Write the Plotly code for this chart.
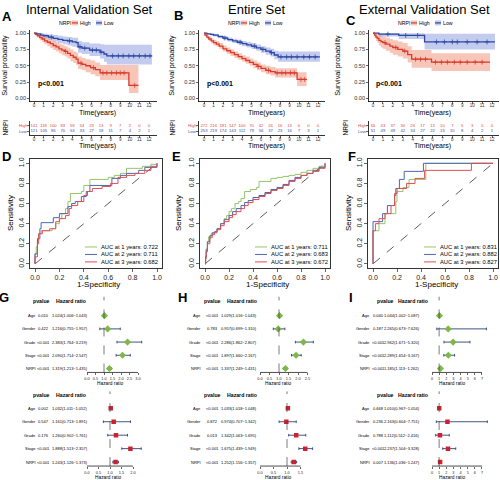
import numpy as np
import plotly.graph_objects as go

W, H = 500, 480
FONT = "Liberation Sans, Arial, sans-serif"

# ======================= DATA =======================
titles = ["Internal Validation Set", "Entire Set", "External Validation Set"]
letters = ["A", "B", "C", "D", "E", "F", "G", "H", "I"]
years = list(range(13))

# ---- Kaplan-Meier, Internal validation set (A) ----
A_high_t = [0, 0.15, 0.35, 0.6, 0.85, 1.1, 1.4, 1.7, 2.0, 2.3, 2.6, 2.9, 3.2, 3.5, 3.8, 4.1, 4.4, 4.6, 5.0, 5.4, 5.9, 6.4, 6.9, 9.9, 10.9]
A_high_s = [1.0, 0.98, 0.96, 0.93, 0.91, 0.88, 0.86, 0.84, 0.81, 0.79, 0.76, 0.74, 0.72, 0.69, 0.66, 0.63, 0.60, 0.54, 0.52, 0.50, 0.47, 0.44, 0.39, 0.20, 0.20]
A_high_lo = [1.0, 0.96, 0.93, 0.89, 0.86, 0.83, 0.80, 0.77, 0.74, 0.72, 0.69, 0.66, 0.64, 0.61, 0.57, 0.54, 0.51, 0.45, 0.43, 0.40, 0.37, 0.34, 0.28, 0.08, 0.08]
A_high_hi = [1.0, 1.0, 0.99, 0.97, 0.96, 0.94, 0.92, 0.90, 0.88, 0.86, 0.84, 0.82, 0.80, 0.78, 0.75, 0.72, 0.70, 0.64, 0.62, 0.60, 0.58, 0.55, 0.51, 0.51, 0.51]
A_high_cens = [3.3, 4.9, 6.2, 7.2, 7.6, 8.1, 8.6, 9.0, 9.4, 10.5]
A_low_t = [0, 0.3, 0.7, 1.0, 1.5, 2.0, 2.5, 3.0, 3.5, 4.0, 4.4, 4.6, 5.0, 5.8, 6.9, 7.3, 7.6, 12.3]
A_low_s = [1.0, 0.99, 0.97, 0.96, 0.94, 0.92, 0.905, 0.89, 0.88, 0.865, 0.855, 0.79, 0.77, 0.74, 0.71, 0.68, 0.65, 0.65]
A_low_lo = [1.0, 0.97, 0.94, 0.92, 0.90, 0.87, 0.85, 0.83, 0.81, 0.79, 0.78, 0.70, 0.68, 0.65, 0.61, 0.56, 0.52, 0.52]
A_low_hi = [1.0, 1.0, 1.0, 0.99, 0.98, 0.97, 0.96, 0.95, 0.94, 0.93, 0.93, 0.88, 0.86, 0.84, 0.83, 0.82, 0.82, 0.82]
A_low_cens = [1.8, 3.7, 4.8, 5.3, 6.1, 6.5, 7.0, 8.2, 8.8, 9.3, 9.9, 10.4, 11.0, 11.6, 12.1]
A_risk_high = [141, 118, 100, 83, 59, 34, 23, 13, 9, 7, 2, 0, 0]
A_risk_low = [121, 105, 96, 70, 53, 33, 27, 18, 11, 7, 4, 2, 1]

# ---- Kaplan-Meier, Entire set (B) ----
B_high_t = [0, 0.1, 0.3, 0.5, 0.75, 1.0, 1.3, 1.6, 2.0, 2.4, 2.8, 3.2, 3.6, 4.0, 4.4, 4.8, 5.2, 5.6, 6.0, 6.5, 7.0, 7.5, 9.8, 10.8]
B_high_s = [1.0, 0.97, 0.94, 0.91, 0.88, 0.855, 0.83, 0.80, 0.76, 0.73, 0.70, 0.67, 0.64, 0.61, 0.58, 0.55, 0.52, 0.49, 0.46, 0.43, 0.41, 0.39, 0.29, 0.29]
B_high_lo = [1.0, 0.95, 0.91, 0.88, 0.84, 0.81, 0.79, 0.76, 0.72, 0.68, 0.65, 0.62, 0.59, 0.56, 0.53, 0.50, 0.46, 0.43, 0.40, 0.37, 0.35, 0.32, 0.19, 0.19]
B_high_hi = [1.0, 0.99, 0.97, 0.95, 0.92, 0.90, 0.88, 0.85, 0.81, 0.78, 0.75, 0.72, 0.69, 0.66, 0.64, 0.61, 0.58, 0.55, 0.52, 0.50, 0.48, 0.46, 0.40, 0.40]
B_high_cens = [5.7, 6.8, 7.7, 8.2, 8.6, 9.1, 9.5, 10.2, 10.6]
B_low_t = [0, 0.3, 0.7, 1.0, 1.5, 2.0, 2.5, 3.0, 3.5, 4.0, 4.5, 5.0, 5.5, 6.0, 6.5, 7.0, 7.4, 7.8, 12.2]
B_low_s = [1.0, 0.99, 0.98, 0.97, 0.945, 0.925, 0.90, 0.88, 0.86, 0.84, 0.82, 0.80, 0.775, 0.75, 0.725, 0.70, 0.665, 0.635, 0.635]
B_low_lo = [1.0, 0.98, 0.96, 0.95, 0.92, 0.90, 0.87, 0.85, 0.83, 0.80, 0.78, 0.76, 0.73, 0.70, 0.67, 0.64, 0.60, 0.56, 0.56]
B_low_hi = [1.0, 1.0, 0.99, 0.99, 0.97, 0.955, 0.935, 0.915, 0.90, 0.88, 0.865, 0.85, 0.825, 0.80, 0.78, 0.76, 0.73, 0.72, 0.72]
B_low_cens = [2.2, 3.8, 5.3, 6.2, 7.1, 8.1, 8.7, 9.2, 9.8, 10.5, 11.1, 11.7]
B_risk_high = [272, 216, 181, 147, 100, 70, 42, 26, 16, 13, 6, 0, 0]
B_risk_low = [253, 219, 174, 143, 112, 79, 56, 37, 23, 16, 7, 3, 1]

# ---- Kaplan-Meier, External validation set (C) ----
C_high_t = [0, 0.15, 0.3, 0.45, 0.6, 0.8, 1.0, 1.3, 1.7, 2.0, 2.5, 3.0, 3.5, 3.9, 5.9, 11.8]
C_high_s = [1.0, 0.97, 0.94, 0.92, 0.89, 0.87, 0.855, 0.83, 0.80, 0.78, 0.75, 0.725, 0.67, 0.60, 0.555, 0.555]
C_high_lo = [1.0, 0.93, 0.88, 0.85, 0.81, 0.78, 0.76, 0.73, 0.70, 0.67, 0.64, 0.61, 0.55, 0.47, 0.42, 0.42]
C_high_hi = [1.0, 1.0, 1.0, 0.99, 0.97, 0.96, 0.95, 0.93, 0.91, 0.89, 0.87, 0.85, 0.80, 0.74, 0.69, 0.69]
C_high_cens = [1.2, 2.3, 3.2, 4.3, 4.8, 5.3, 6.3, 6.9, 7.5, 8.2, 8.8, 9.5, 10.3, 11.0]
C_low_t = [0, 0.6, 2.6, 5.2, 12.3]
C_low_s = [1.0, 0.985, 0.965, 0.865, 0.865]
C_low_lo = [1.0, 0.95, 0.91, 0.75, 0.75]
C_low_hi = [1.0, 1.0, 1.0, 0.99, 0.99]
C_low_cens = [1.5, 3.3, 4.5, 6.4, 7.2, 8.0, 8.5, 9.5, 10.5, 11.5]
C_risk_high = [66, 43, 37, 30, 26, 17, 13, 10, 7, 5, 3, 0, 0]
C_risk_low = [51, 49, 49, 42, 34, 27, 22, 15, 10, 8, 4, 2, 1]

# ---- time-dependent ROC (FPR at which TPR jumps, new TPR) ----
D_fpr1 = [0, 0, 0.01, 0.02, 0.03, 0.05, 0.14, 0.17, 0.2, 0.22, 0.25, 0.27, 0.29, 0.38, 0.4, 0.45, 0.6, 0.65, 0.7, 0.75, 0.88, 0.95, 1]
D_tpr1 = [0, 0.1, 0.17, 0.25, 0.3, 0.33, 0.35, 0.4, 0.45, 0.5, 0.55, 0.62, 0.7, 0.72, 0.78, 0.84, 0.86, 0.88, 0.9, 0.95, 0.97, 0.99, 1]
D_fpr2 = [0, 0, 0.02, 0.04, 0.05, 0.15, 0.2, 0.27, 0.3, 0.33, 0.38, 0.42, 0.45, 0.63, 0.7, 0.75, 0.85, 0.9, 1]
D_tpr2 = [0, 0.1, 0.25, 0.35, 0.41, 0.46, 0.5, 0.57, 0.6, 0.62, 0.67, 0.72, 0.78, 0.85, 0.88, 0.9, 0.93, 0.96, 1]
D_fpr3 = [0, 0, 0.02, 0.03, 0.06, 0.12, 0.17, 0.2, 0.25, 0.28, 0.3, 0.35, 0.4, 0.43, 0.47, 0.55, 0.62, 0.68, 0.75, 0.82, 0.9, 0.95, 1]
D_tpr3 = [0, 0.07, 0.2, 0.3, 0.33, 0.35, 0.42, 0.45, 0.48, 0.55, 0.58, 0.62, 0.68, 0.72, 0.75, 0.77, 0.8, 0.86, 0.88, 0.9, 0.93, 0.97, 1]
D_auc = ["0.722", "0.711", "0.682"]

E_fpr1 = [0, 0.005, 0.01, 0.02, 0.03, 0.05, 0.08, 0.1, 0.13, 0.16, 0.18, 0.2, 0.22, 0.25, 0.28, 0.3, 0.33, 0.38, 0.43, 0.45, 0.55, 0.6, 0.65, 0.7, 0.75, 0.8, 0.85, 0.9, 0.95, 1]
E_tpr1 = [0, 0.08, 0.15, 0.22, 0.27, 0.3, 0.32, 0.35, 0.4, 0.45, 0.48, 0.52, 0.55, 0.6, 0.62, 0.65, 0.72, 0.74, 0.76, 0.82, 0.85, 0.86, 0.87, 0.88, 0.89, 0.91, 0.93, 0.95, 0.97, 1]
E_fpr2 = [0, 0.005, 0.01, 0.02, 0.04, 0.06, 0.08, 0.1, 0.13, 0.16, 0.2, 0.23, 0.26, 0.3, 0.33, 0.36, 0.4, 0.45, 0.5, 0.55, 0.6, 0.65, 0.7, 0.75, 0.8, 0.85, 0.9, 0.95, 1]
E_tpr2 = [0, 0.07, 0.14, 0.22, 0.28, 0.31, 0.32, 0.35, 0.4, 0.44, 0.48, 0.52, 0.55, 0.58, 0.61, 0.63, 0.66, 0.68, 0.71, 0.74, 0.76, 0.79, 0.83, 0.86, 0.88, 0.9, 0.93, 0.96, 1]
E_fpr3 = [0, 0.005, 0.01, 0.02, 0.04, 0.06, 0.08, 0.1, 0.13, 0.16, 0.2, 0.23, 0.26, 0.3, 0.33, 0.36, 0.4, 0.45, 0.5, 0.55, 0.6, 0.65, 0.7, 0.75, 0.8, 0.85, 0.9, 0.95, 1]
E_tpr3 = [0, 0.05, 0.12, 0.2, 0.26, 0.29, 0.31, 0.34, 0.38, 0.42, 0.46, 0.49, 0.52, 0.55, 0.58, 0.61, 0.64, 0.67, 0.7, 0.73, 0.75, 0.78, 0.82, 0.85, 0.88, 0.9, 0.92, 0.95, 1]
E_auc = ["0.711", "0.683", "0.672"]

F_fpr1 = [0, 0, 0.05, 0.1, 0.19, 0.2, 0.25, 0.3, 0.44, 1]
F_tpr1 = [0, 0.33, 0.4, 0.5, 0.62, 0.72, 0.76, 0.84, 1.0, 1]
F_fpr2 = [0, 0, 0.08, 0.12, 0.18, 0.19, 0.22, 0.26, 0.42, 1]
F_tpr2 = [0, 0.42, 0.5, 0.58, 0.68, 0.75, 0.84, 0.92, 1.0, 1]
F_fpr3 = [0, 0, 0.02, 0.05, 0.1, 0.15, 0.18, 0.2, 0.28, 0.35, 0.43, 0.82, 1]
F_tpr3 = [0, 0.33, 0.4, 0.45, 0.5, 0.58, 0.7, 0.75, 0.8, 0.85, 0.93, 1.0, 1]
F_auc = ["0.831", "0.882", "0.827"]
roc_years = [1, 2, 3]

# ---- Cox regression forest plots ----
factors = ["Age", "Gender", "Grade", "Stage", "NRPI"]
G_uni_hr = [1.024, 1.216, 2.383, 2.090, 1.319]
G_uni_lo = [1.006, 0.755, 1.764, 1.714, 1.213]
G_uni_hi = [1.043, 1.957, 3.219, 2.547, 1.435]
G_uni_p = ["0.010", "0.422", "<0.001", "<0.001", "<0.001"]
G_multi_hr = [1.032, 1.161, 1.260, 1.888, 1.243]
G_multi_lo = [1.011, 0.713, 0.902, 1.513, 1.126]
G_multi_hi = [1.052, 1.891, 1.761, 2.357, 1.373]
G_multi_p = ["0.002", "0.547", "0.176", "<0.001", "<0.001"]
H_uni_hr = [1.029, 0.957, 2.286, 1.897, 1.337]
H_uni_lo = [1.016, 0.699, 1.862, 1.660, 1.249]
H_uni_hi = [1.043, 1.310, 2.807, 2.167, 1.431]
H_uni_p = ["<0.001", "0.783", "<0.001", "<0.001", "<0.001"]
H_multi_hr = [1.033, 0.974, 1.342, 1.675, 1.252]
H_multi_lo = [1.018, 0.707, 1.063, 1.439, 1.156]
H_multi_hi = [1.048, 1.342, 1.695, 1.949, 1.357]
H_multi_p = ["<0.001", "0.872", "0.013", "<0.001", "<0.001"]
I_uni_hr = [1.044, 2.265, 2.962, 2.289, 1.185]
I_uni_lo = [1.002, 0.673, 1.671, 1.654, 1.113]
I_uni_hi = [1.087, 7.626, 5.320, 3.167, 1.262]
I_uni_p = ["0.040", "0.187", "<0.001", "<0.001", "<0.001"]
I_multi_hr = [1.010, 2.163, 1.112, 2.237, 1.136]
I_multi_lo = [0.967, 0.604, 0.512, 1.504, 1.036]
I_multi_hi = [1.054, 7.751, 2.416, 3.328, 1.247]
I_multi_p = ["0.668", "0.236", "0.788", "<0.001", "0.007"]
G_ticks_uni = [0, 0.5, 1.0, 1.5, 2.0, 2.5, 3.0]
G_ticks_multi = [0, 0.5, 1.0, 1.5, 2.0]
H_ticks_uni = [0, 0.5, 1.0, 1.5, 2.0, 2.5]
H_ticks_multi = [0, 0.5, 1.0, 1.5]
I_ticks = [0, 1, 2, 3, 4, 5, 6, 7]

# ======================= STYLE =======================
RED, BLUE = "#D83A2C", "#2B47A2"
RED_FILL, BLUE_FILL = "rgba(238,120,88,0.42)", "rgba(112,130,214,0.42)"
RISK_RED, RISK_BLUE = "#E04A3C", "#33509E"
ROC_COLS = ["#97C46A", "#4E66AE", "#E04E55"]
GREEN_PT, RED_PT, CI_COL = "#7DB848", "#CF2030", "#2E4374"

fig = go.Figure()
layout = {}
ann = []
shapes = []
axn = [0]


def new_axes(xdom_px, ydom_px, xo, yo):
    axn[0] += 1
    n = axn[0]
    sx = "" if n == 1 else str(n)
    layout["xaxis" + sx] = dict(domain=[xdom_px[0] / W, xdom_px[1] / W], anchor="y" + sx, **xo)
    layout["yaxis" + sx] = dict(domain=[1 - ydom_px[1] / H, 1 - ydom_px[0] / H], anchor="x" + sx, **yo)
    return "x" + sx, "y" + sx


def text(t, x, y, size, color="black", bold=False, xanchor="center", angle=0, yref="paper"):
    if bold:
        t = "<b>" + t + "</b>"
    ann.append(dict(text=t, x=x / W, y=(1 - y / H) if yref == "paper" else y, xref="paper", yref=yref,
                    showarrow=False, xanchor=xanchor, yanchor="middle", textangle=angle,
                    borderpad=0, font=dict(size=size, color=color, family=FONT)))


def hline(x0, x1, y0, y1, color, width, dash="solid", xref="paper", yref="paper"):
    shapes.append(dict(type="line", x0=x0, x1=x1, y0=y0, y1=y1, xref=xref, yref=yref,
                       line=dict(color=color, width=width, dash=dash)))


base_ax = dict(showgrid=False, zeroline=False, showline=True, linecolor="black", linewidth=0.8,
               ticks="outside", tickcolor="black", tickwidth=0.6)

# ======================= KM + risk tables =======================
km_data = [
    [(A_high_t, A_high_s, A_high_lo, A_high_hi, A_high_cens), (A_low_t, A_low_s, A_low_lo, A_low_hi, A_low_cens), A_risk_high, A_risk_low],
    [(B_high_t, B_high_s, B_high_lo, B_high_hi, B_high_cens), (B_low_t, B_low_s, B_low_lo, B_low_hi, B_low_cens), B_risk_high, B_risk_low],
    [(C_high_t, C_high_s, C_high_lo, C_high_hi, C_high_cens), (C_low_t, C_low_s, C_low_lo, C_low_hi, C_low_cens), C_risk_high, C_risk_low],
]
km_x = [(30, 34, 149, 157), (199, 204, 318, 325), (369, 373, 492, 499)]
title_cx = [89, 256, 424]
letter_pos = [(7, 15), (178, 14), (351, 19)]
legend_x = [58, 227, 397]
ylab_x = [5, 172, 338]
p_cx = [51, 220, 389]
time_cx = [97, 266, 432]
nrpi_x = [5, 172, 345]

for i in range(3):
    axl, x0, x12, axr = km_x[i]
    s = (x12 - x0) / 12
    xr = [(axl - x0) / s, 12 + (axr - x12) / s]
    xo = dict(base_ax, range=xr, tickvals=years, ticktext=[str(v) for v in years], ticklen=1.5,
              ticklabelstandoff=-2, tickfont=dict(size=4.5, family=FONT, color="#333"))
    yo = dict(base_ax, range=[-0.05, 1.05], tickvals=[0, 0.25, 0.5, 0.75, 1.0],
              ticktext=["0.00", "0.25", "0.50", "0.75", "1.00"], ticklen=2,
              tickfont=dict(size=5.6, family=FONT, color="#333"))
    xa, ya = new_axes((axl, axr), (28, 100), xo, yo)
    high, low, rh, rl = km_data[i]
    for (t, sv, lo, hi, cens), fc in [(low, BLUE_FILL), (high, RED_FILL)]:
        fig.add_trace(go.Scatter(x=t, y=hi, mode="lines", line=dict(width=0, shape="hv"),
                                 xaxis=xa, yaxis=ya, hoverinfo="skip", showlegend=False))
        fig.add_trace(go.Scatter(x=t, y=lo, mode="lines", line=dict(width=0, shape="hv"), fill="tonexty",
                                 fillcolor=fc, xaxis=xa, yaxis=ya, hoverinfo="skip", showlegend=False))
    for (t, sv, lo, hi, cens), lc in [(low, BLUE), (high, RED)]:
        fig.add_trace(go.Scatter(x=t, y=sv, mode="lines", line=dict(color=lc, width=1.3, shape="hv"),
                                 xaxis=xa, yaxis=ya, showlegend=False))
        idx = np.searchsorted(np.array(t), np.array(cens), side="right") - 1
        cy = np.array(sv)[idx]
        fig.add_trace(go.Scatter(x=cens, y=cy, mode="markers",
                                 marker=dict(symbol="cross-thin", size=3.5, color=lc, line=dict(color=lc, width=0.8)),
                                 xaxis=xa, yaxis=ya, showlegend=False))
    # risk table
    xo2 = dict(xo)
    yo2 = dict(base_ax, range=[-0.667, 1.833], tickvals=[0, 1], ticklen=2, showticklabels=False)
    xb, yb = new_axes((axl, axr), (119, 134), xo2, yo2)
    fig.add_trace(go.Scatter(x=years, y=[1] * 13, mode="text", text=[str(v) for v in rh],
                             textfont=dict(size=4.2, color=RISK_RED, family=FONT), xaxis=xb, yaxis=yb, showlegend=False))
    fig.add_trace(go.Scatter(x=years, y=[0] * 13, mode="text", text=[str(v) for v in rl],
                             textfont=dict(size=4.2, color=RISK_BLUE, family=FONT), xaxis=xb, yaxis=yb, showlegend=False))
    text("High", axl - 1.5, 124, 4.2, RISK_RED, xanchor="right")
    text("Low", axl - 1.5, 130, 4.2, RISK_BLUE, xanchor="right")
    text(titles[i], title_cx[i], 7.5, 13)
    text(letters[i], letter_pos[i][0], letter_pos[i][1], 13, bold=True)
    text("Survival probability", ylab_x[i], 64, 7.2, angle=-90)
    text("p<0.001", p_cx[i], 82.5, 7, bold=True)
    text("Time(years)", time_cx[i], 111, 7)
    text("Time(years)", time_cx[i], 144.5, 7)
    text("NRPI", nrpi_x[i], 126, 6.5, angle=-90)
    lx = legend_x[i]
    text("NRPI", lx, 21, 5.2, xanchor="left")
    for kx, lc, fc, lab in [(lx + 14, RED, RED_FILL, "High"), (lx + 38, BLUE, BLUE_FILL, "Low")]:
        shapes.append(dict(type="rect", x0=kx / W, x1=(kx + 6) / W, y0=1 - 23.5 / H, y1=1 - 18.5 / H,
                           xref="paper", yref="paper", fillcolor=fc, line=dict(width=0)))
        hline(kx / W, (kx + 6) / W, 1 - 21 / H, 1 - 21 / H, lc, 1.2)
        text(lab, kx + 7, 21, 5.2, xanchor="left")

# ======================= ROC panels =======================
roc_data = [
    [(D_fpr1, D_tpr1), (D_fpr2, D_tpr2), (D_fpr3, D_tpr3), D_auc],
    [(E_fpr1, E_tpr1), (E_fpr2, E_tpr2), (E_fpr3, E_tpr3), E_auc],
    [(F_fpr1, F_tpr1), (F_fpr2, F_tpr2), (F_fpr3, F_tpr3), F_auc],
]
roc_x = [(35, 157), (205, 325), (373, 493)]
roc_letter = [(6, 155), (176, 155), (352, 155)]
spec_cx = [98, 267, 436]
sens_x = [10, 178, 348]
leg_line_x = [85, 255, 424]
for i in range(3):
    p0, p1 = roc_x[i]
    s = (p1 - p0)
    box = (p0 - 0.04 * s, p1 + 0.04 * s)
    ys = (263 - 162)
    ticks = [0, 0.2, 0.4, 0.6, 0.8, 1.0]
    tt = ["0.0", "0.2", "0.4", "0.6", "0.8", "1.0"]
    xo = dict(base_ax, range=[-0.04, 1.04], tickvals=ticks, ticktext=tt, ticklen=3, mirror=True,
              tickfont=dict(size=7, family=FONT, color="#222"))
    yo = dict(base_ax, range=[-0.04, 1.04], tickvals=ticks, ticktext=tt, ticklen=3, mirror=True, tickangle=-90,
              tickfont=dict(size=7, family=FONT, color="#222"))
    xa, ya = new_axes(box, (162 - 0.04 * ys, 263 + 0.04 * ys), xo, yo)
    fig.add_trace(go.Scatter(x=[0, 1], y=[0, 1], mode="lines", line=dict(color="#333", width=0.8, dash="dash"),
                             xaxis=xa, yaxis=ya, showlegend=False))
    for k in range(3):
        fx, ty = roc_data[i][k]
        fig.add_trace(go.Scatter(x=fx, y=ty, mode="lines", line=dict(color=ROC_COLS[k], width=1.0, shape="hv"),
                                 xaxis=xa, yaxis=ya, showlegend=False))
    for k in range(3):
        yy = 246 + 7.5 * k
        lx = leg_line_x[i]
        hline(lx / W, (lx + 12) / W, 1 - yy / H, 1 - yy / H, ROC_COLS[k], 1.0)
        text("AUC at %d years: %s" % (roc_years[k], roc_data[i][3][k]), lx + 15, yy, 5.8, xanchor="left")
    text(letters[3 + i], roc_letter[i][0], roc_letter[i][1], 13, bold=True)
    text("1-Specificity", spec_cx[i], 284, 8)
    text("Sensitivity", sens_x[i], 212, 8, angle=-90)

# ======================= Forest plots =======================
forests = [
    (G_uni_hr, G_uni_lo, G_uni_hi, G_uni_p, "diamond", GREEN_PT, 87, 17, G_ticks_uni, "%.1f", (80, 146), 37, 43.5, 50.5, 41.5, 71, 110, True),
    (G_multi_hr, G_multi_lo, G_multi_hi, G_multi_p, "square", RED_PT, 87, 23, G_ticks_multi, "%.1f", (80, 146), 37, 43.5, 50.5, 41.5, 71, 108, False),
    (H_uni_hr, H_uni_lo, H_uni_hi, H_uni_p, "diamond", GREEN_PT, 260, 19, H_ticks_uni, "%.1f", (253, 318), 202, 212, 220, 212, 242, 278, True),
    (H_multi_hr, H_multi_lo, H_multi_hi, H_multi_p, "square", RED_PT, 260, 27, H_ticks_multi, "%.1f", (253, 318), 202, 212, 220, 212, 242, 278, False),
    (I_uni_hr, I_uni_lo, I_uni_hi, I_uni_p, "diamond", GREEN_PT, 432, 7.14, I_ticks, "%d", (428, 499), 371, 378, 383, 385, 413, 452, True),
    (I_multi_hr, I_multi_lo, I_multi_hi, I_multi_p, "square", RED_PT, 432, 7.14, I_ticks, "%d", (428, 499), 371, 378, 383, 385, 413, 452, False),
]
rows = [5, 4, 3, 2, 1]
for j, f in enumerate(forests):
    hr, lo, hi, pv, sym, col, z, sc, ticks, fmt, dom, lab_rx, pcx, hrlx, hpx, hhx, tcx, top = f
    if top:
        head_y, age_y, nrpi_y, dtop, dbot, ttl_y = 300, 315, 368, 296, 372, 383
    else:
        head_y, age_y, nrpi_y, dtop, dbot, ttl_y = 395, 408, 462, 391, 466, 477
    rs = (nrpi_y - age_y) / 4.0
    yr = [1 - (dbot - nrpi_y) / rs, 5 + (age_y - dtop) / rs]
    xr = [(dom[0] - z) / sc, (dom[1] - z) / sc]
    xo = dict(showgrid=False, zeroline=False, showline=False, range=xr, tickvals=ticks,
              ticktext=[fmt % v for v in ticks], ticks="outside", ticklen=2, tickwidth=0.6, tickcolor="black",
              tickfont=dict(size=3.8, family=FONT, color="#222"))
    yo = dict(visible=False, range=yr)
    xa, ya = new_axes(dom, (dtop, dbot), xo, yo)
    hr_a = np.array(hr); lo_a = np.array(lo); hi_a = np.array(hi)
    fig.add_trace(go.Scatter(x=hr, y=rows, mode="markers",
                             marker=dict(symbol=sym, size=5.5 if sym == "diamond" else 4.5, color=col, line=dict(width=0)),
                             error_x=dict(type="data", symmetric=False, array=list(hi_a - hr_a), arrayminus=list(hr_a - lo_a),
                                          color=CI_COL, thickness=0.9, width=1.3),
                             xaxis=xa, yaxis=ya, showlegend=False))
    shapes.append(dict(type="line", xref=xa, yref=ya + " domain", x0=1, x1=1, y0=0, y1=1,
                       line=dict(color="#444", width=0.7, dash="dash")))
    shapes.append(dict(type="line", xref=xa, yref=ya + " domain", x0=ticks[0], x1=ticks[-1], y0=0, y1=0,
                       line=dict(color="black", width=0.7)))
    for r, name, p, h, l, u in zip(rows, factors, pv, hr, lo, hi):
        text(name, lab_rx, r, 4, xanchor="right", yref=ya)
        text(p, pcx, r, 4, yref=ya)
        text("%.3f(%.3f~%.3f)" % (h, l, u), hrlx, r, 4, xanchor="left", yref=ya)
    text("pvalue", hpx, head_y, 5.2, bold=True)
    text("Hazard ratio", hhx, head_y, 5.2, bold=True)
    text("Hazard ratio", tcx, ttl_y, 4.8)

text("G", 4, 297, 13, bold=True)
text("H", 182, 297, 13, bold=True)
text("I", 351, 297, 13, bold=True)

fig.update_layout(**layout)
fig.update_layout(width=W, height=H, margin=dict(l=0, r=0, t=0, b=0), paper_bgcolor="white",
                  plot_bgcolor="white", showlegend=False, annotations=ann, shapes=shapes,
                  font=dict(family=FONT), hovermode=False)
fig.write_html("out.html", config={"displayModeBar": False, "staticPlot": True},
               post_script="document.body.style.margin='0px';document.body.style.overflow='hidden';")
